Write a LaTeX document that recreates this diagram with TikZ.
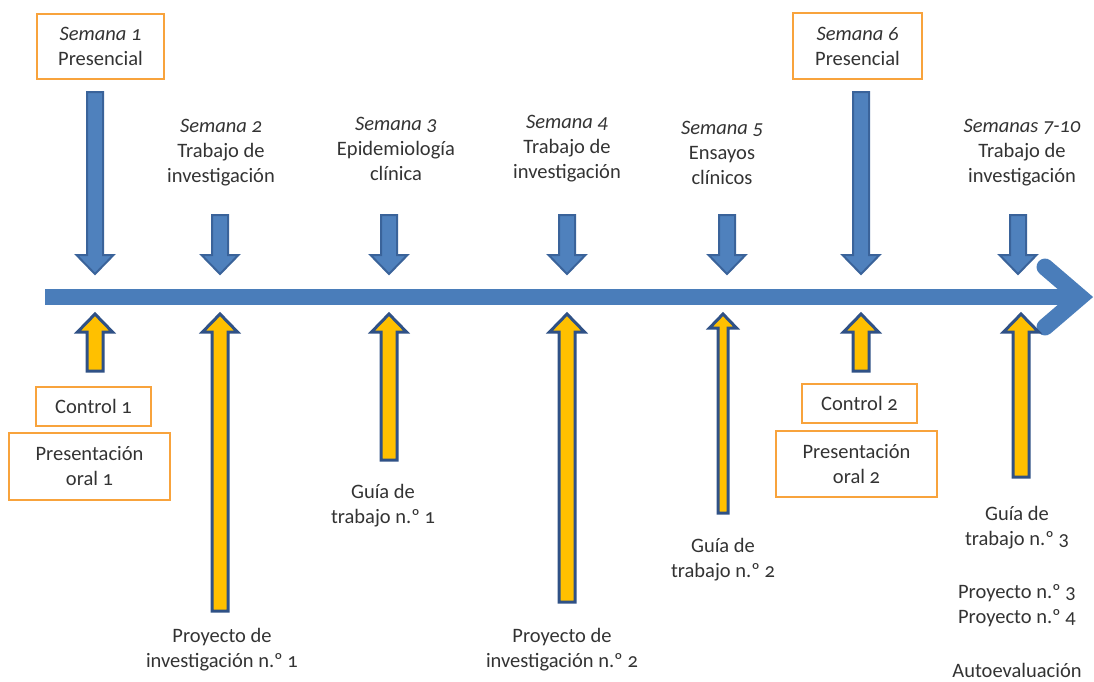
\documentclass[tikz,border=0pt]{standalone}
\usepackage{fontspec}
\setmainfont{Carlito}[Numbers=OldStyle]
\definecolor{mainblue}{HTML}{4A7DBA}
\definecolor{arrfill}{HTML}{4F81BD}
\definecolor{arrline}{HTML}{3A639A}
\definecolor{upline}{HTML}{2F5186}
\definecolor{gold}{HTML}{FFC000}
\definecolor{boxorange}{HTML}{F8A33C}
\definecolor{txt}{HTML}{333333}
\newcommand\downblk[6]{%
  \draw[downarr] ({#1-#4},#2) -- ({#1+#4},#2) -- ({#1+#4},{#3-#6}) -- ({#1+#5},{#3-#6})
    -- (#1,#3) -- ({#1-#5},{#3-#6}) -- ({#1-#4},{#3-#6}) -- cycle;}
\newcommand\upblk[6]{%
  \draw[uparr] ({#1-#4},#2) -- ({#1+#4},#2) -- ({#1+#4},{#3+#6}) -- ({#1+#5},{#3+#6})
    -- (#1,#3) -- ({#1-#5},{#3+#6}) -- ({#1-#4},{#3+#6}) -- cycle;}
\begin{document}
\begin{tikzpicture}[x=1pt,y=-1pt,
  downarr/.style={fill=arrfill,draw=arrline,line width=2pt,line join=miter},
  uparr/.style={fill=gold,draw=upline,line width=3pt,line join=miter},
  obox/.style={draw=boxorange,line width=2pt,align=center,text=txt,inner sep=0pt,
    font=\fontsize{20.5}{25}\selectfont},
  lbl/.style={align=center,text=txt,inner sep=0pt,font=\fontsize{20.5}{25}\selectfont},
  mainline/.style={draw=mainblue,line width=16pt}]
\useasboundingbox (0,0) rectangle (1094,681);
% main timeline
\coordinate (tl0) at (45,297);
\coordinate (tl1) at (1075,297);
\coordinate (ch1) at (1045,267);
\coordinate (ch2) at (1080,297);
\coordinate (ch3) at (1045,327);
\draw[mainline,line cap=butt] (tl0) -- (tl1);
\draw[mainline,line width=17pt,line cap=round,line join=miter] (ch1) -- (ch2) -- (ch3);
% top boxes
\node[obox,minimum width=127pt,minimum height=65pt] (s1) at (100.5,46) {\textit{Semana 1}\\Presencial};
\node[obox,minimum width=129pt,minimum height=66pt] (s6) at (857.5,46) {\textit{Semana 6}\\Presencial};
% top labels
\node[lbl] (s2) at (221,153) {\textit{Semana 2}\\Trabajo de\\investigación};
\node[lbl] (s3) at (396,149) {\textit{Semana 3}\\Epidemiología\\clínica};
\node[lbl] (s4) at (567,149) {\textit{Semana 4}\\Trabajo de\\investigación};
\node[lbl] (s5) at (722,153) {\textit{Semana 5}\\Ensayos\\clínicos};
\node[lbl] (s7) at (1022,153) {\textit{Semanas 7-10}\\Trabajo de\\investigación};
% down arrows
\downblk{95}{92}{274}{8}{18.5}{19}
\downblk{220}{215}{274}{8}{18.5}{19}
\downblk{389}{215}{274}{8}{18.5}{19}
\downblk{567}{215}{274}{8}{18.5}{19}
\downblk{727}{215}{274}{8}{18.5}{19}
\downblk{861}{92}{274}{8}{18.5}{19}
\downblk{1018}{215}{274}{8}{18.5}{19}
% up arrows
\upblk{95}{371}{314}{8}{17.5}{18}
\upblk{220}{611}{314}{8}{17.5}{18}
\upblk{389}{460}{314}{8}{17.5}{18}
\upblk{567}{602}{314}{8}{17.5}{18}
\upblk{723}{513}{314}{5}{13.5}{14}
\upblk{861}{371}{314}{8}{17.5}{18}
\upblk{1021}{477}{314}{8}{17.5}{18}
% bottom boxes
\node[obox,minimum width=115pt,minimum height=39pt] (c1) at (93.5,406.5) {Control 1};
\node[obox,minimum width=161pt,minimum height=67pt] (p1) at (89.5,466.5) {Presentación\\oral 1};
\node[obox,minimum width=115pt,minimum height=39pt] (c2) at (859.5,403.5) {Control 2};
\node[obox,minimum width=161pt,minimum height=66pt] (p2) at (856.5,464) {Presentación\\oral 2};
% bottom labels
\node[lbl] (pr1) at (222,650) {Proyecto de\\investigación n.º 1};
\node[lbl] (g1) at (383,505.5) {Guía de\\trabajo n.º 1};
\node[lbl] (pr2) at (562,650) {Proyecto de\\investigación n.º 2};
\node[lbl] (g2) at (723,559.5) {Guía de\\trabajo n.º 2};
\node[lbl] (g3) at (1017,527.5) {Guía de\\trabajo n.º 3};
\node[lbl] (pr34) at (1017,606) {Proyecto n.º 3\\Proyecto n.º 4};
\node[lbl] (auto) at (1017,670) {Autoevaluación};
\end{tikzpicture}
\end{document}
